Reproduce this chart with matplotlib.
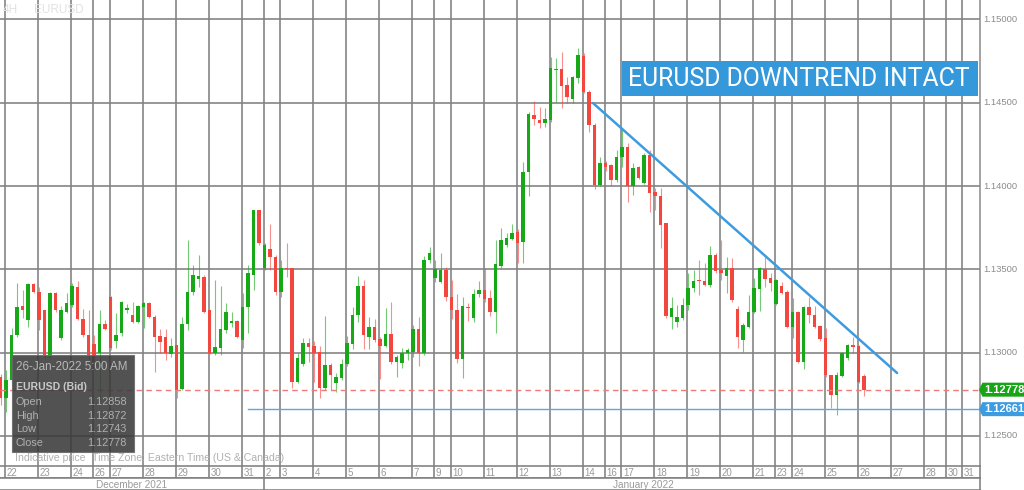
import matplotlib
matplotlib.use("Agg")
import matplotlib.pyplot as plt
from matplotlib.patches import Rectangle, Polygon
import matplotlib.transforms as mtransforms
import numpy as np

plt.rcParams['font.family'] = ['Liberation Sans', 'DejaVu Sans']

# ---------------- data (EURUSD 4H, Bid) ----------------
first_candle_index = -1   # candle index of first visible candle (21 Dec, 21:00)
opens = [1.12856, 1.12728, 1.12836, 1.13106, 1.13280, 1.13196, 1.13412, 1.13364, 1.13256, 1.12986,
         1.13358, 1.13088, 1.13244, 1.13286, 1.13394, 1.13202, 1.13106, 1.13052, 1.12998, 1.13172,
         1.13334, 1.13070, 1.13118, 1.13256, 1.13226, 1.13184, 1.13274, 1.13298, 1.13214, 1.13100,
         1.13094, 1.12992, 1.13046, 1.12782, 1.13172, 1.13364, 1.13442, 1.13454, 1.13256, 1.12998,
         1.13028, 1.13136, 1.13178, 1.13190, 1.13076, 1.13274, 1.13466, 1.13856, 1.13508, 1.13622,
         1.13574, 1.13364, 1.13508, 1.13508, 1.12824, 1.12932, 1.13058, 1.13040, 1.13004, 1.12788,
         1.12926, 1.12818, 1.12848, 1.12932, 1.13052, 1.13226, 1.13400, 1.13094, 1.13154, 1.13082,
         1.13040, 1.13112, 1.12944, 1.12938, 1.12998, 1.13004, 1.13142, 1.12998, 1.13556, 1.13448,
         1.13424, 1.13496, 1.13334, 1.13256, 1.12962, 1.13274, 1.13208, 1.13352, 1.13376, 1.13328,
         1.13244, 1.13520, 1.13646, 1.13682, 1.13724, 1.13664, 1.14084, 1.14426, 1.14396, 1.14378,
         1.14396, 1.14696, 1.14702, 1.14606, 1.14522, 1.14648, 1.14780, 1.14564, 1.14366, 1.14006,
         1.14138, 1.14126, 1.14036, 1.14174, 1.14234, 1.14000, 1.14114, 1.14018, 1.14186, 1.13964,
         1.13940, 1.13778, 1.13214, 1.13184, 1.13208, 1.13286, 1.13388, 1.13436, 1.13430, 1.13406,
         1.13586, 1.13496, 1.13460, 1.13508, 1.13262, 1.13076, 1.13154, 1.13244, 1.13382, 1.13502,
         1.13448, 1.13292, 1.13400, 1.13364, 1.13154, 1.13244, 1.12944, 1.13274, 1.13226, 1.13160,
         1.13088, 1.12866, 1.12746, 1.12860, 1.12968, 1.13046, 1.13040, 1.12858]
highs = [1.12872, 1.12896, 1.13148, 1.13418, 1.13376, 1.13418, 1.13418, 1.13394, 1.13256, 1.13364,
         1.13364, 1.13280, 1.13358, 1.13418, 1.13430, 1.13262, 1.13256, 1.13106, 1.13256, 1.13196,
         1.13340, 1.13238, 1.13310, 1.13292, 1.13304, 1.13286, 1.13304, 1.13304, 1.13226, 1.13142,
         1.13142, 1.13088, 1.13046, 1.13214, 1.13676, 1.13526, 1.13586, 1.13466, 1.13256, 1.13436,
         1.13400, 1.13298, 1.13244, 1.13196, 1.13358, 1.13526, 1.13856, 1.13856, 1.13658, 1.13772,
         1.13586, 1.13556, 1.13658, 1.13508, 1.12998, 1.13088, 1.13088, 1.13070, 1.13040, 1.13220,
         1.12938, 1.12878, 1.12962, 1.13100, 1.13274, 1.13460, 1.13436, 1.13214, 1.13202, 1.13094,
         1.13268, 1.13304, 1.12986, 1.13028, 1.13028, 1.13166, 1.13214, 1.13580, 1.13634, 1.13556,
         1.13598, 1.13514, 1.13436, 1.13352, 1.13334, 1.13298, 1.13382, 1.13430, 1.13508, 1.13376,
         1.13676, 1.13748, 1.13718, 1.13772, 1.13742, 1.14144, 1.14444, 1.14510, 1.14474, 1.14468,
         1.14774, 1.14768, 1.14804, 1.14654, 1.14660, 1.14828, 1.14798, 1.14576, 1.14378, 1.14174,
         1.14150, 1.14132, 1.14216, 1.14348, 1.14258, 1.14138, 1.14120, 1.14198, 1.14216, 1.13988,
         1.13988, 1.13778, 1.13334, 1.13286, 1.13328, 1.13478, 1.13496, 1.13556, 1.13538, 1.13640,
         1.13598, 1.13676, 1.13574, 1.13568, 1.13280, 1.13178, 1.13346, 1.13448, 1.13514, 1.13574,
         1.13478, 1.13442, 1.13424, 1.13376, 1.13328, 1.13250, 1.13280, 1.13334, 1.13280, 1.13166,
         1.13148, 1.12866, 1.12884, 1.13004, 1.13052, 1.13094, 1.13046, 1.12872]
lows = [1.12686, 1.12644, 1.12806, 1.13094, 1.13208, 1.13154, 1.13358, 1.13136, 1.12968, 1.12968,
        1.13244, 1.13076, 1.13238, 1.13274, 1.13196, 1.13094, 1.12956, 1.12944, 1.12716, 1.13136,
        1.13016, 1.13028, 1.13100, 1.13238, 1.13178, 1.13178, 1.13148, 1.13208, 1.12884, 1.12998,
        1.12956, 1.12974, 1.12728, 1.12776, 1.13136, 1.13346, 1.13394, 1.13238, 1.12992, 1.12986,
        1.12986, 1.13118, 1.13154, 1.13088, 1.13028, 1.13118, 1.13376, 1.13646, 1.13496, 1.13496,
        1.13346, 1.13334, 1.13454, 1.12788, 1.12818, 1.12920, 1.12944, 1.12824, 1.12728, 1.12776,
        1.12776, 1.12764, 1.12836, 1.12920, 1.13022, 1.13184, 1.13022, 1.13022, 1.13064, 1.12842,
        1.13034, 1.12932, 1.12854, 1.12908, 1.12956, 1.12974, 1.12920, 1.12986, 1.13538, 1.13424,
        1.13418, 1.13310, 1.13202, 1.12938, 1.12848, 1.13190, 1.13184, 1.13334, 1.13304, 1.13220,
        1.13118, 1.13508, 1.13634, 1.13676, 1.13538, 1.13538, 1.13940, 1.14366, 1.14348, 1.14354,
        1.14384, 1.14504, 1.14468, 1.14498, 1.14498, 1.14618, 1.14558, 1.14324, 1.13982, 1.14000,
        1.14090, 1.14000, 1.14024, 1.14114, 1.13904, 1.13946, 1.14042, 1.14012, 1.13844, 1.13856,
        1.13628, 1.13208, 1.13142, 1.13154, 1.13196, 1.13256, 1.13364, 1.13346, 1.13400, 1.13394,
        1.13478, 1.13436, 1.13358, 1.13304, 1.13028, 1.13004, 1.13148, 1.13238, 1.13250, 1.13394,
        1.13370, 1.13286, 1.13352, 1.13148, 1.13088, 1.12938, 1.12902, 1.13178, 1.13148, 1.13070,
        1.12854, 1.12668, 1.12626, 1.12854, 1.12956, 1.12998, 1.12818, 1.12743]
closes = [1.12728, 1.12836, 1.13106, 1.13274, 1.13256, 1.13412, 1.13364, 1.13196, 1.12986, 1.13358,
          1.13256, 1.13256, 1.13298, 1.13400, 1.13202, 1.13106, 1.12986, 1.12980, 1.13172, 1.13142,
          1.13028, 1.13106, 1.13304, 1.13268, 1.13184, 1.13280, 1.13298, 1.13214, 1.13094, 1.13064,
          1.12998, 1.13040, 1.12776, 1.13172, 1.13364, 1.13466, 1.13460, 1.13244, 1.12998, 1.13034,
          1.13142, 1.13244, 1.13190, 1.13094, 1.13274, 1.13478, 1.13856, 1.13658, 1.13646, 1.13574,
          1.13364, 1.13508, 1.13502, 1.12824, 1.12968, 1.13058, 1.13034, 1.12998, 1.12788, 1.12926,
          1.12866, 1.12854, 1.12932, 1.13058, 1.13226, 1.13400, 1.13106, 1.13154, 1.13076, 1.13040,
          1.13112, 1.12944, 1.12974, 1.12998, 1.13016, 1.13142, 1.12998, 1.13556, 1.13598, 1.13502,
          1.13496, 1.13334, 1.13256, 1.12962, 1.13280, 1.13268, 1.13352, 1.13376, 1.13322, 1.13244,
          1.13532, 1.13676, 1.13688, 1.13718, 1.13658, 1.14084, 1.14432, 1.14402, 1.14378, 1.14402,
          1.14708, 1.14702, 1.14600, 1.14534, 1.14654, 1.14786, 1.14564, 1.14366, 1.14006, 1.14138,
          1.14114, 1.14036, 1.14174, 1.14234, 1.14000, 1.14108, 1.14048, 1.14186, 1.13958, 1.13940,
          1.13766, 1.13220, 1.13268, 1.13214, 1.13286, 1.13388, 1.13430, 1.13430, 1.13406, 1.13586,
          1.13490, 1.13478, 1.13508, 1.13316, 1.13094, 1.13166, 1.13244, 1.13388, 1.13508, 1.13442,
          1.13418, 1.13436, 1.13358, 1.13154, 1.13244, 1.12944, 1.13274, 1.13226, 1.13154, 1.13082,
          1.12866, 1.12746, 1.12866, 1.12998, 1.13046, 1.13034, 1.12824, 1.12778]

# day labels and the candle index at which each day starts
day_labels = ['22', '23', '24', '26', '27', '28', '29', '30', '31', '2', '3', '4', '5', '6', '7',
              '9', '10', '11', '12', '13', '14', '16', '17', '18', '19', '20', '21', '23', '24',
              '25', '26', '27', '28', '30', '31']
day_start = [0, 6, 12, 16, 19, 25, 31, 37, 43, 47, 50, 56, 62, 68, 74, 78, 81, 87, 93, 99, 105,
             109, 112, 118, 124, 130, 136, 140, 143, 149, 155, 161, 167, 171, 174]
month_labels = ['December 2021', 'January 2022']
month_start = [None, 47]

price_ticks = [1.125, 1.130, 1.135, 1.140, 1.145, 1.150]
last_close = 1.12778
support_level = 1.12661
support_start = 44
trend_start = (106.7, 1.14498)
trend_end = (162.0, 1.12878)
title = 'EURUSD DOWNTREND INTACT'
info_time = '26-Jan-2022 5:00 AM'
info_symbol = 'EURUSD (Bid)'
info_names = ['Open', 'High', 'Low', 'Close']
info_values = ['1.12858', '1.12872', '1.12743', '1.12778']

# ---------------- figure ----------------
W, H = 1024, 490
fig = plt.figure(figsize=(W / 100, H / 100), dpi=100)
fig.patch.set_facecolor('white')

plot_right = 980
ax = fig.add_axes([0, 24 / H, plot_right / W, 466 / H])
px_per_slot = 5.5
x0_px = 6.1
ax.set_xlim((0 - x0_px) / px_per_slot, (plot_right - x0_px) / px_per_slot)
ax.set_ylim(1.12320, 1.15116)
for s in ['top', 'left', 'bottom']:
    ax.spines[s].set_visible(False)
ax.spines['right'].set_color('#8a8a8a')
ax.spines['right'].set_linewidth(1.1)
ax.set_xticks([])
ax.set_yticks([])

grid_c = '#808080'
grid_lw = 1.15
for p in price_ticks:
    ax.axhline(p, color=grid_c, lw=grid_lw, zorder=1)
grid_x = [s - 0.2 for s in day_start]
for gx in grid_x:
    ax.axvline(gx, color=grid_c, lw=grid_lw, zorder=1)

# candles
green = '#17a817'
red = '#f2473f'
idx = np.arange(first_candle_index, first_candle_index + len(opens))
o = np.array(opens); h = np.array(highs); l = np.array(lows); c = np.array(closes)
up = c >= o
cols = np.where(up, green, red)
min_h = 0.00005
body_bot = np.minimum(o, c)
body_h = np.maximum(np.abs(c - o), min_h)
ax.vlines(idx, l, h, colors=cols, lw=0.8, alpha=0.6, zorder=2)
ax.bar(idx, body_h, bottom=body_bot, width=0.62, color=cols, zorder=3, linewidth=0)

# red dashed line at last close
ax.axhline(last_close, color='#f07a7a', lw=1.0, ls=(0, (4, 3)), zorder=4)
# support line
ax.plot([support_start, ax.get_xlim()[1]], [support_level, support_level],
        color='#5aa8e4', lw=1.0, zorder=4)
# trend line
ax.plot([trend_start[0], trend_end[0]], [trend_start[1], trend_end[1]],
        color='#3d9be0', lw=1.8, zorder=5, solid_capstyle='round')

# right axis labels
ytrans = mtransforms.blended_transform_factory(ax.transAxes, ax.transData)
for p in price_ticks:
    ax.text(1.0035, p, f'{p:.5f}', transform=ytrans, ha='left', va='center',
            fontsize=6.8, color='#8c8c8c', clip_on=False)

# price tags
def tag(price, col, text):
    hh = 0.00042
    xl = 1.0025
    xr = 1.05
    xtip = 0.999
    poly = Polygon([[xtip, price], [xl, price + hh], [xr, price + hh], [xr, price - hh], [xl, price - hh]],
                   closed=True, transform=ytrans, fc=col, ec='none', clip_on=False, zorder=10)
    ax.add_patch(poly)
    ax.text(1.0045, price, text, transform=ytrans, ha='left', va='center', fontsize=8.0,
            fontweight='bold', color='white', clip_on=False, zorder=11)

tag(last_close, '#15a515', f'{last_close:.5f}')
tag(support_level, '#3d9be0', f'{support_level:.5f}')

# watermark
ax.text(3 / plot_right, 1 - 10 / 466, '4H', transform=ax.transAxes, fontsize=8.5,
        color='#e2e2e2', va='center', ha='left')
ax.text(34 / plot_right, 1 - 10 / 466, 'EURUSD', transform=ax.transAxes, fontsize=8.5,
        color='#e2e2e2', va='center', ha='left')

# title box
fig.patches.append(Rectangle((622 / W, (H - 96) / H), 356 / W, 35 / H, transform=fig.transFigure,
                             fc='#3498db', ec='none', zorder=20))
fig.text(799 / W, (H - 78.5) / H, title, ha='center', va='center', fontsize=17.8,
         family=['Roboto', 'DejaVu Sans'], color='white', zorder=21)

# info box
fig.patches.append(Rectangle((11.7 / W, (H - 452) / H), 122.3 / W, 97 / H, transform=fig.transFigure,
                             fc='#3a3a3a', ec='#6a6a6a', lw=0.8, alpha=0.88, zorder=20))
fig.text(16 / W, (H - 367) / H, info_time, fontsize=8.4, color='#b8b8b8', va='center', ha='left', zorder=21)
fig.text(16 / W, (H - 386.5) / H, info_symbol, fontsize=7.6, color='#c8c8c8', fontweight='bold',
         va='center', ha='left', zorder=21)
for k, (nm, vl) in enumerate(zip(info_names, info_values)):
    yy = 402 + k * 13.7
    fig.text(16 / W, (H - yy) / H, nm, fontsize=7.8, color='#b0b0b0', va='center', ha='left', zorder=21)
    fig.text(127 / W, (H - yy) / H, vl, fontsize=7.8, color='#b0b0b0', va='center', ha='right', zorder=21)

ax.text(15 / plot_right, (466 - 458) / 466, 'Indicative price', transform=ax.transAxes,
        fontsize=7.6, color='#b0b0b0', va='center', ha='left', zorder=21)
ax.text(92 / plot_right, (466 - 458) / 466, 'Time Zone: Eastern Time (US & Canada)', transform=ax.transAxes,
        fontsize=7.6, color='#b0b0b0', va='center', ha='left', zorder=21)

# date row
axd = fig.add_axes([0, 12 / H, plot_right / W, 12 / H])
axd.set_xlim(ax.get_xlim()); axd.set_ylim(0, 1)
axd.set_xticks([]); axd.set_yticks([])
for s in ['left']:
    axd.spines[s].set_visible(False)
for s in ['top', 'bottom', 'right']:
    axd.spines[s].set_color(grid_c); axd.spines[s].set_linewidth(grid_lw)
for gx, lab in zip(grid_x, day_labels):
    axd.axvline(gx, color=grid_c, lw=grid_lw)
    axd.text(gx + 0.35, 0.45, lab, fontsize=7, color='#9a9a9a', va='center', ha='left', clip_on=True)

# month row
axm = fig.add_axes([0, 0, plot_right / W, 12 / H])
axm.set_xlim(ax.get_xlim()); axm.set_ylim(0, 1)
axm.set_xticks([]); axm.set_yticks([])
axm.spines['left'].set_visible(False)
for s in ['top', 'bottom', 'right']:
    axm.spines[s].set_color(grid_c); axm.spines[s].set_linewidth(grid_lw)
axm.axvline(month_start[1] - 0.2, color=grid_c, lw=grid_lw)
xl = ax.get_xlim()
dec_center = (xl[0] + month_start[1] - 0.2) / 2
jan_center = (month_start[1] - 0.2 + (1024 - x0_px) / px_per_slot) / 2
axm.text(dec_center, 0.45, month_labels[0], fontsize=7.2, color='#9a9a9a', ha='center', va='center')
axm.text(jan_center, 0.45, month_labels[1], fontsize=7.2, color='#9a9a9a', ha='center', va='center')

fig.savefig('out.png', dpi=100, facecolor='white')
